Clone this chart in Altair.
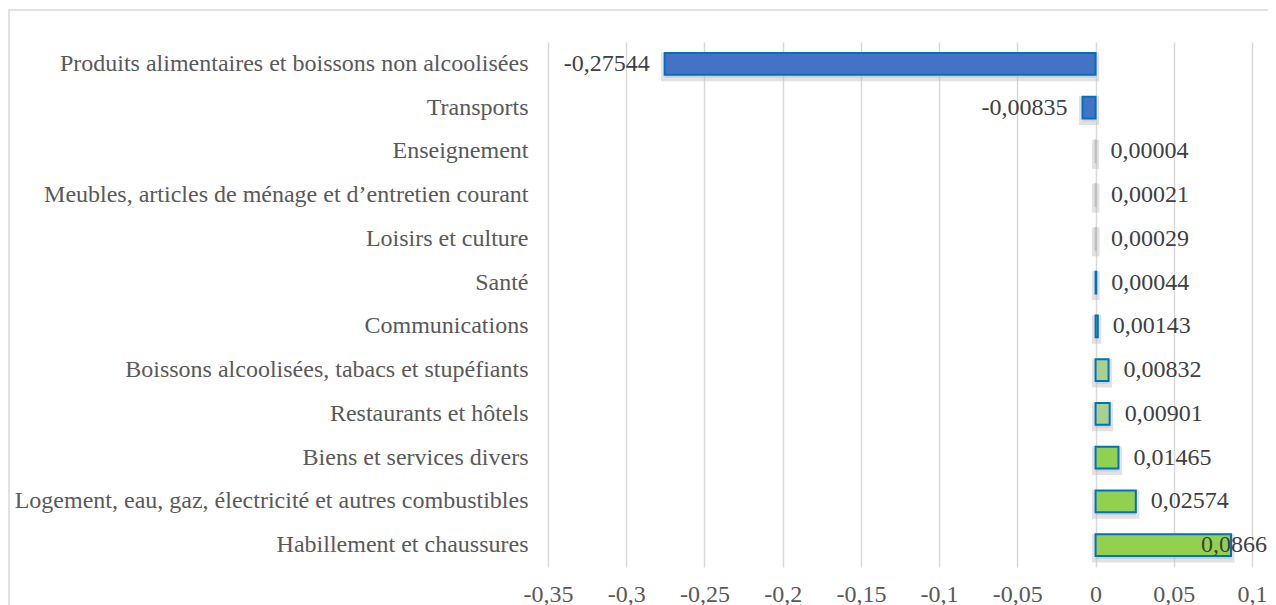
import altair as alt
import pandas as pd

categories = [
    "Produits alimentaires et boissons non alcoolisées",
    "Transports",
    "Enseignement ",
    "Meubles, articles de ménage et d\u2019entretien courant ",
    "Loisirs et culture",
    "Santé ",
    "Communications",
    "Boissons alcoolisées, tabacs et stupéfiants",
    "Restaurants et hôtels",
    "Biens et services divers",
    "Logement, eau, gaz, électricité et autres combustibles",
    "Habillement et chaussures",
]
values = [-0.27544, -0.00835, 0.00004, 0.00021, 0.00029, 0.00044,
          0.00143, 0.00832, 0.00901, 0.01465, 0.02574, 0.0866]
x_ticks = [-0.35, -0.3, -0.25, -0.2, -0.15, -0.1, -0.05, 0, 0.05, 0.1]

df = pd.DataFrame({"cat": categories, "value": values})

FONT = "Liberation Serif"
FS = 24

y_enc = alt.Y(
    "cat:N", sort=categories,
    scale=alt.Scale(paddingInner=0.5, paddingOuter=0.25),
    axis=alt.Axis(title=None, ticks=False, domain=False, labelFont=FONT,
                  labelFontSize=FS, labelColor="#595959", labelPadding=20,
                  labelLimit=700),
)
x_enc = alt.X(
    "value:Q",
    scale=alt.Scale(domain=[-0.35, 0.1], nice=False, zero=False),
    axis=alt.Axis(title=None, values=x_ticks,
                  labelExpr="replace(toString(datum.value), '.', ',')",
                  grid=True, gridColor="#D9D9D9", gridWidth=1.5,
                  domain=False, ticks=False, labelFont=FONT, labelFontSize=FS,
                  labelColor="#595959", labelPadding=15, labelFlush=False,
                  labelOverlap=False),
)

base = alt.Chart(df).transform_calculate(
    label="replace(toString(datum.value), '.', ',')"
)

shadow = base.mark_bar(
    fill="#A6A6A6", fillOpacity=0.35, stroke="#BFBFBF", strokeOpacity=0.45,
    strokeWidth=7, xOffset=0, yOffset=3,
).encode(y=y_enc, x=x_enc, x2=alt.datum(0))

bars = base.mark_bar(strokeWidth=2).encode(
    y=alt.Y("cat:N", sort=categories),
    x=alt.X("value:Q"),
    x2=alt.datum(0),
    fill={
        "condition": [
            {"test": "datum.value < 0", "value": "#4472C4"},
            {"test": "datum.value < 0.01", "value": "#A9D18E"},
        ],
        "value": "#92D050",
    },
    stroke={
        "condition": [
            {"test": "datum.value >= 0 && datum.value < 0.0003", "value": "#BFBFBF"},
        ],
        "value": "#0070C0",
    },
)

txt_kw = dict(font=FONT, fontSize=FS, color="#404040", baseline="middle")
t_neg = base.mark_text(align="right", dx=-15, **txt_kw).encode(
    y=alt.Y("cat:N", sort=categories), x="value:Q", text="label:N"
).transform_filter("datum.value < 0")
t_pos = base.mark_text(align="left", dx=15, **txt_kw).encode(
    y=alt.Y("cat:N", sort=categories), x="value:Q", text="label:N"
).transform_filter("datum.value >= 0 && datum.value < 0.08")
t_big = base.mark_text(align="right", dx=36, **txt_kw).encode(
    y=alt.Y("cat:N", sort=categories), x="value:Q", text="label:N"
).transform_filter("datum.value >= 0.08")

border = alt.Chart(pd.DataFrame({"k": [0]})).mark_rect(
    fillOpacity=0, stroke="#D9D9D9", strokeWidth=1.5
).encode(x=alt.value(-539), x2=alt.value(800), y=alt.value(-32), y2=alt.value(700))

chart = alt.layer(border, shadow, bars, t_neg, t_pos, t_big).properties(
    width=704, height=525,
    autosize=alt.AutoSizeParams(type="none"),
    padding={"left": 540, "top": 34, "right": 16, "bottom": 38},
).configure_view(stroke=None)

chart.save("out.html", embed_options={"renderer": "svg", "actions": False})
